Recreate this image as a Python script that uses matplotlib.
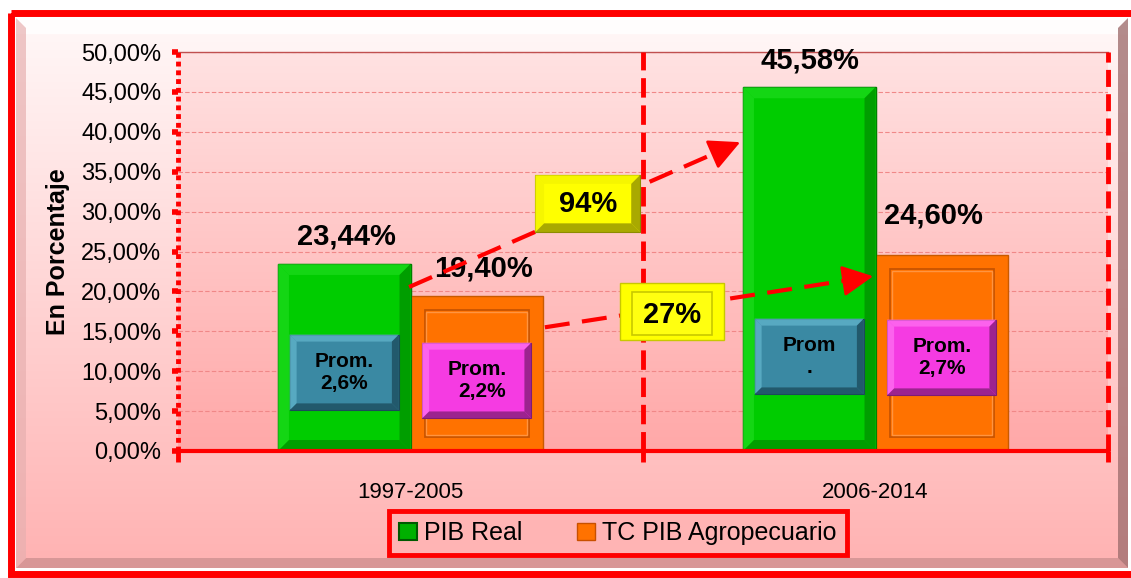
import numpy as np
import matplotlib
matplotlib.use('Agg')
import matplotlib.pyplot as plt
from matplotlib.patches import Rectangle, Polygon, Patch
from matplotlib.ticker import FuncFormatter
from matplotlib.colors import LinearSegmentedColormap

plt.rcParams['font.family'] = ['Liberation Sans', 'DejaVu Sans']

# data
periods = ["1997-2005", "2006-2014"]
pib_real = [23.44, 45.58]
tc_pib_agro = [19.40, 24.60]
prom_pib_real = ["Prom.\n2,6%", "Prom\n."]
prom_tc_agro = ["Prom.\n2,2%", "Prom.\n2,7%"]
growth_labels = ["94%", "27%"]
y_ticks = [0, 5, 10, 15, 20, 25, 30, 35, 40, 45, 50]

W, H = 1131, 578
fig = plt.figure(figsize=(W / 100, H / 100), dpi=100)
fig.patch.set_facecolor('white')

# background panel with red frame
bg = fig.add_axes([0, 0, 1, 1])
bg.set_xlim(0, W)
bg.set_ylim(H, 0)
bg.axis('off')
grad = np.linspace(0, 1, 256).reshape(-1, 1)
panel_cmap = LinearSegmentedColormap.from_list('panel', ['#FFF8F8', '#FFB2B2'])
bg.imshow(grad, cmap=panel_cmap, extent=(16, 1128, 568, 18), aspect='auto', zorder=0)
bg.add_patch(Rectangle((16, 18), 1112, 16, fc='white', ec='none', alpha=0.8, zorder=1))
bg.add_patch(Polygon([(16, 568), (1128, 568), (1118, 558), (26, 558)], fc='#C88C8C', ec='none', alpha=0.7, zorder=1))
bg.add_patch(Polygon([(16, 18), (16, 568), (26, 558), (26, 28)], fc='#E8B0B0', ec='none', alpha=0.7, zorder=1))
bg.add_patch(Polygon([(1128, 18), (1128, 568), (1118, 558), (1118, 28)], fc='#A07070', ec='none', alpha=0.8, zorder=1))
bg.add_patch(Rectangle((11, 13), 1135, 561, fill=False, ec='red', lw=5, zorder=2))

# main axes
ax = fig.add_axes([178 / W, 1 - 451 / H, 930 / W, 399 / H])
plot_cmap = LinearSegmentedColormap.from_list('plot', ['#FFE2E2', '#FFA8A8'])
ax.imshow(grad, cmap=plot_cmap, extent=(0, 1, 0, 1), transform=ax.transAxes,
          aspect='auto', zorder=0)
ax.set_xlim(0, 2)
ax.set_ylim(0, 50)
ax.patch.set_alpha(0)

sx = 930 / 2.0   # px per x unit
sy = 399 / 50.0  # px per y unit


def bevel(x0, y0, w, h, face, light, dark, inset, z, alpha=0.75):
    ix, iy = inset / sx, inset / sy
    ax.add_patch(Rectangle((x0, y0), w, h, fc=face, ec=dark, lw=0.8, zorder=z))
    o = [(x0, y0), (x0 + w, y0), (x0 + w, y0 + h), (x0, y0 + h)]
    i = [(x0 + ix, y0 + iy), (x0 + w - ix, y0 + iy),
         (x0 + w - ix, y0 + h - iy), (x0 + ix, y0 + h - iy)]
    parts = [([o[3], o[2], i[2], i[3]], light),
             ([o[0], o[3], i[3], i[0]], light),
             ([o[1], o[2], i[2], i[1]], dark),
             ([o[0], o[1], i[1], i[0]], dark)]
    for pts, c in parts:
        ax.add_patch(Polygon(pts, closed=True, fc=c, ec='none', alpha=alpha, zorder=z))


ax.yaxis.grid(True, color='#F08888', ls=(0, (4, 2)), lw=0.8)
ax.set_axisbelow(True)

x = np.arange(len(periods)) + 0.5
bw = 0.285
b1 = ax.bar(x - bw / 2, pib_real, bw, color='#00CC00', edgecolor='#007A00', lw=1, zorder=3)
b2 = ax.bar(x + bw / 2, tc_pib_agro, bw, color='#FF7200', edgecolor='#C85A00', lw=1, zorder=3)

for p in b1:
    bevel(p.get_x(), 0, p.get_width(), p.get_height(), '#00CC00', '#22DD22', '#008000', 11, 3, 0.6)
for p in b2:
    ix, iy = 14 / sx, 14 / sy
    ax.add_patch(Rectangle((p.get_x() + ix, iy), p.get_width() - 2 * ix, p.get_height() - 2 * iy,
                           fill=False, ec='#C85400', lw=1.3, zorder=3.5))
    ax.add_patch(Rectangle((p.get_x() + ix + 2 / sx, iy + 2 / sy), p.get_width() - 2 * ix - 4 / sx,
                           p.get_height() - 2 * iy - 4 / sy, fill=False, ec='#FF9440', lw=1, zorder=3.5))

# value labels
label_offsets_pib = [(2, 27), (1, 27)]
label_offsets_agro = [(7, 28), (-8, 39)]
for bars, offs in [(b1, label_offsets_pib), (b2, label_offsets_agro)]:
    for p, (dx, dy) in zip(bars, offs):
        v = p.get_height()
        ax.annotate(f"{v:.2f}%".replace('.', ','), (p.get_x() + p.get_width() / 2, v),
                    xytext=(dx, dy), textcoords='offset pixels', ha='center', va='center',
                    fontsize=21, fontweight='bold', zorder=5)

# average boxes
box_w, box_h = 0.235, 9.5
prom_y_pib = [9.84, 11.84]
prom_y_agro = [8.83, 11.72]
for p, txt, yc in zip(b1, prom_pib_real, prom_y_pib):
    xc = p.get_x() + p.get_width() / 2
    bevel(xc - box_w / 2, yc - box_h / 2, box_w, box_h, '#3A89A3', '#62B4CC', '#1B4A5A', 7, 6)
    ax.text(xc, yc, txt, ha='center', va='center', fontsize=15, fontweight='bold',
            linespacing=1.25, zorder=7)
for k, (p, txt, yc) in enumerate(zip(b2, prom_tc_agro, prom_y_agro)):
    xc = p.get_x() + p.get_width() / 2
    bevel(xc - box_w / 2, yc - box_h / 2, box_w, box_h, '#F53BE2', '#FF70F2', '#7E1C74', 7, 6)
    ax.text(xc, yc, txt, ha='center', va='center', fontsize=15, fontweight='bold',
            linespacing=1.25, multialignment='right' if k == 0 else 'center', zorder=7)

# growth arrows
arrows = [((0.497, 20.55), (1.209, 38.7)), ((0.789, 15.5), (1.495, 21.9))]
for (x0, y0), (x1, y1) in arrows:
    dxp, dyp = (x1 - x0) * sx, (y1 - y0) * sy
    L = np.hypot(dxp, dyp)
    bx, by = x1 - 20 * dxp / L / sx, y1 - 20 * dyp / L / sy
    ax.plot([x0, bx], [y0, by], color='red', lw=3, ls=(0, (6, 3)), zorder=6,
            solid_capstyle='butt', dash_capstyle='butt')
    ax.annotate('', xy=(x1, y1), xytext=(bx, by),
                arrowprops=dict(arrowstyle='-|>,head_length=0.8,head_width=0.4',
                                color='red', lw=2, shrinkA=0, shrinkB=0, mutation_scale=24),
                zorder=6)

# growth boxes
bevel(0.768, 27.4, 0.226, 7.2, '#FFFF00', '#F4F400', '#8C8C00', 9, 8)
ax.text(0.881, 31.0, growth_labels[0], ha='center', va='center', fontsize=21,
        fontweight='bold', zorder=9)
ax.add_patch(Rectangle((0.951, 13.9), 0.223, 7.15, fc='#FFFF00', ec='#C8C800', lw=1, zorder=8))
ax.add_patch(Rectangle((0.951 + 12 / sx, 13.9 + 5 / sy), 0.223 - 24 / sx, 7.15 - 14 / sy,
                       fc='#FFFF10', ec='#C8C800', lw=1.2, zorder=8))
ax.text(1.0625, 17.0, growth_labels[1], ha='center', va='center', fontsize=21,
        fontweight='bold', zorder=9)

# axis lines
ax.axvline(0, color='red', lw=3.5, ls=(0, (1, 0.8)), zorder=4, clip_on=False)
ax.axvline(1, color='red', lw=3.5, ls=(0, (4, 1.6)), zorder=4, clip_on=False)
ax.axvline(2, color='red', lw=3.5, ls=(0, (3.5, 1.5)), zorder=4, clip_on=False)
for s in ['left', 'right']:
    ax.spines[s].set_visible(False)
ax.spines['top'].set_color('#C05050')
ax.spines['top'].set_linewidth(1)
ax.spines['bottom'].set_color('red')
ax.spines['bottom'].set_linewidth(3)
ax.spines['bottom'].set_zorder(5)

ax.set_yticks(y_ticks)
ax.yaxis.set_major_formatter(FuncFormatter(lambda v, p: f"{v:.2f}%".replace('.', ',')))
ax.tick_params(axis='y', colors='red', labelcolor='black', length=4, width=4,
               direction='out', pad=8, labelsize=17)
ax.set_xticks(x)
ax.set_xticklabels(periods)
ax.set_xticks([0, 1, 2], minor=True)
ax.tick_params(axis='x', which='major', length=0, pad=22, labelsize=16)
ax.tick_params(axis='x', which='minor', colors='red', length=8, width=3.5, direction='out')

fig.text(58 / W, 1 - 252 / H, 'En Porcentaje', rotation=90, ha='center', va='center',
         fontsize=18, fontweight='bold')

handles = [Patch(fc='#00B000', ec='#005A00', lw=1.5, label='PIB Real'),
           Patch(fc='#FF7200', ec='#C85000', lw=1, label='TC PIB Agropecuario')]
leg = fig.legend(handles=handles, loc='center', bbox_to_anchor=(618 / W, 1 - 533 / H),
                 ncol=2, fontsize=18, frameon=True, fancybox=False, edgecolor='red',
                 facecolor='#FFB4B4', framealpha=1, handlelength=0.7, handleheight=0.7,
                 handletextpad=0.3, columnspacing=2.2, borderpad=0.4, borderaxespad=0)
leg.get_frame().set_linewidth(3.5)

plt.savefig('out.png', dpi=100)
